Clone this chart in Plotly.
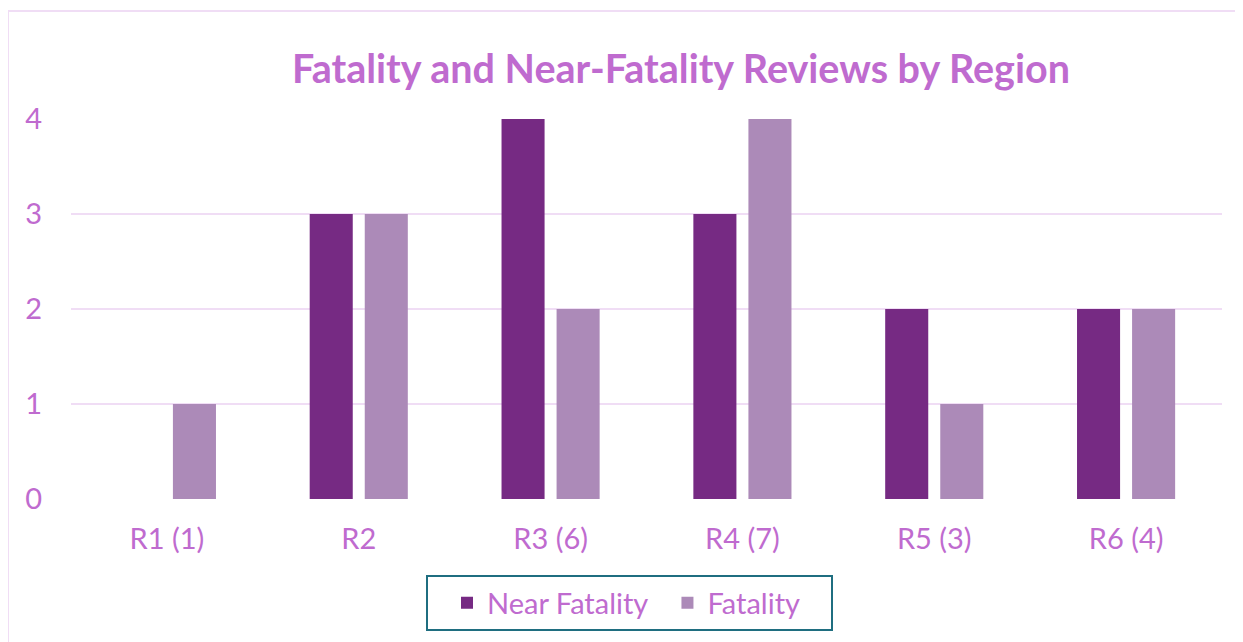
import plotly.graph_objects as go

regions = ["R1 (1)", "R2", "R3 (6)", "R4 (7)", "R5 (3)", "R6 (4)"]
near_fatality = [0, 3, 4, 3, 2, 2]
fatality = [1, 3, 2, 4, 1, 2]
y_ticks = [0, 1, 2, 3, 4]

TEXT = "#BF6BCF"
GRID = "#F0DDF5"
FONT = "Lato"

OFF = 8  # page body margin
W, H = 1243 - OFF, 642 - OFF
PL, PR, PT, PB = 71, 1222, 119, 499  # plot area in window pixels
L, T = PL - OFF, PT - OFF
R, B = W - (PR - OFF), H - (PB - OFF)
pw, ph = W - L - R, H - T - B

fig = go.Figure()
fig.add_trace(go.Bar(x=regions, y=near_fatality, name="Near Fatality\u00a0\u00a0",
                     marker=dict(color="#762A83", line=dict(width=0))))
fig.add_trace(go.Bar(x=regions, y=fatality, name="Fatality",
                     marker=dict(color="#AC8AB8", line=dict(width=0))))

def px_x(p):
    return (p - PL) / pw

def px_y(p):
    return (PB - p) / ph

fig.update_layout(
    width=W, height=H,
    margin=dict(l=L, r=R, t=T, b=B),
    paper_bgcolor="white", plot_bgcolor="white",
    font=dict(family=FONT, color=TEXT, size=29),
    barmode="group", bargap=0.426, bargroupgap=0.218,
    title=dict(text="<b>Fatality and Near-Fatality Reviews by Region</b>",
               x=px_x(681), xref="paper", xanchor="center",
               y=1 - (69 - OFF) / H, yref="container", yanchor="middle",
               font=dict(family=FONT, size=39.5, color=TEXT)),
    xaxis=dict(showgrid=False, showline=False, zeroline=False,
               tickfont=dict(size=29, color=TEXT), ticklabelstandoff=20),
    yaxis=dict(range=[0, 4], tickvals=y_ticks, showgrid=True, gridcolor=GRID,
               gridwidth=2, zeroline=False, showline=False,
               tickfont=dict(size=29, color=TEXT), ticklabelstandoff=28),
    legend=dict(orientation="h", x=px_x(447), xanchor="left",
                y=px_y(603), yanchor="middle", borderwidth=0,
                bgcolor="rgba(0,0,0,0)",
                font=dict(size=29, color=TEXT), itemwidth=30,
                traceorder="normal"),
    shapes=[
        dict(type="line", xref="paper", yref="paper",
             x0=px_x(8), x1=px_x(1260), y0=px_y(11), y1=px_y(11),
             line=dict(color=GRID, width=2)),
        dict(type="line", xref="paper", yref="paper",
             x0=px_x(8), x1=px_x(8), y0=px_y(11), y1=px_y(660),
             line=dict(color=GRID, width=2)),
        dict(type="rect", xref="paper", yref="paper",
             x0=px_x(427), x1=px_x(832), y0=px_y(576), y1=px_y(630),
             line=dict(color="#1F6E80", width=2), fillcolor="rgba(0,0,0,0)"),
    ],
)

fig.write_html("out.html")
